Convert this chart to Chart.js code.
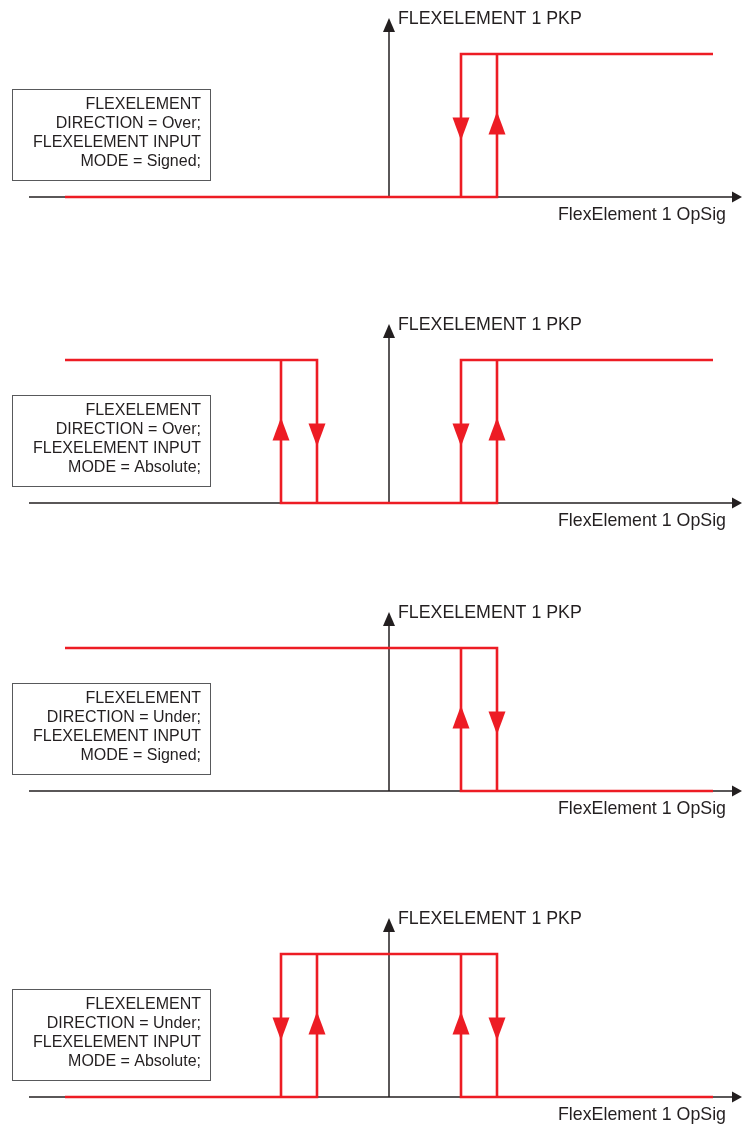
<!DOCTYPE html>
<html>
<head>
<meta charset="utf-8">
<script src="https://cdn.jsdelivr.net/npm/chart.js@4/dist/chart.umd.min.js"></script>
<style>
  html, body { margin: 0; padding: 0; background: #ffffff; }
  body { width: 742px; height: 1127px; position: relative; overflow: hidden; }
  canvas { position: absolute; left: 0; }
</style>
</head>
<body>
<canvas id="c0" width="742" height="235"></canvas>
<canvas id="c1" width="742" height="235"></canvas>
<canvas id="c2" width="742" height="235"></canvas>
<canvas id="c3" width="742" height="235"></canvas>
<script>
// ---- data ----
const yAxisLabel = "FLEXELEMENT 1 PKP";
const xAxisLabel = "FlexElement 1 OpSig";

const panelNotes = [
  ["FLEXELEMENT", "DIRECTION = Over;", "FLEXELEMENT INPUT", "MODE = Signed;"],
  ["FLEXELEMENT", "DIRECTION = Over;", "FLEXELEMENT INPUT", "MODE = Absolute;"],
  ["FLEXELEMENT", "DIRECTION = Under;", "FLEXELEMENT INPUT", "MODE = Signed;"],
  ["FLEXELEMENT", "DIRECTION = Under;", "FLEXELEMENT INPUT", "MODE = Absolute;"]
];

// characteristic polylines (x = OpSig, y = PKP state 0/1)
const overSignedPaths = [
  [[-9, 0], [3, 0], [3, 1]],
  [[2, 0], [2, 1], [9, 1]]
];
const overAbsolutePaths = [
  [[-9, 1], [-2, 1], [-2, 0]],
  [[-3, 1], [-3, 0], [3, 0], [3, 1]],
  [[2, 0], [2, 1], [9, 1]]
];
const underSignedPaths = [
  [[-9, 1], [3, 1], [3, 0]],
  [[2, 1], [2, 0], [9, 0]]
];
const underAbsolutePaths = [
  [[-9, 0], [-2, 0], [-2, 1]],
  [[-3, 0], [-3, 1], [3, 1], [3, 0]],
  [[2, 1], [2, 0], [9, 0]]
];

// direction arrows on the transitions: [x, direction]
const overSignedArrows = [[2, "down"], [3, "up"]];
const overAbsoluteArrows = [[-3, "up"], [-2, "down"], [2, "down"], [3, "up"]];
const underSignedArrows = [[2, "up"], [3, "down"]];
const underAbsoluteArrows = [[-3, "down"], [-2, "up"], [2, "up"], [3, "down"]];

const panelPaths = [overSignedPaths, overAbsolutePaths, underSignedPaths, underAbsolutePaths];
const panelArrows = [overSignedArrows, overAbsoluteArrows, underSignedArrows, underAbsoluteArrows];

// ---- layout ----
const axisY = [197, 503, 791, 1097];   // page y of the OpSig axis per panel
const CANVAS_H = 235, AXIS_IN_CANVAS = 195, UNIT_Y = 143, ORIGIN_X = 389, UNIT_X = 36;
const RED = "#ED1C24", INK = "#231F20";
const FONT = "'Liberation Sans', Arial, Helvetica, sans-serif";

const drawPlugin = {
  id: "hystDraw",
  beforeDatasetsDraw(chart) {
    const ctx = chart.ctx, xs = chart.scales.x, ys = chart.scales.y;
    const x0 = xs.getPixelForValue(0), y0 = ys.getPixelForValue(0);
    ctx.save();
    ctx.strokeStyle = INK; ctx.fillStyle = INK; ctx.lineWidth = 1.5;
    // x axis
    const xStart = xs.getPixelForValue(-10);
    const xEnd = chart.width;
    ctx.beginPath(); ctx.moveTo(xStart, y0); ctx.lineTo(xEnd - 8, y0); ctx.stroke();
    ctx.beginPath(); ctx.moveTo(xEnd, y0); ctx.lineTo(xEnd - 10, y0 - 5.5); ctx.lineTo(xEnd - 10, y0 + 5.5); ctx.closePath(); ctx.fill();
    // y axis
    const yTip = ys.getPixelForValue(1.252);
    ctx.beginPath(); ctx.moveTo(x0, y0); ctx.lineTo(x0, yTip + 10); ctx.stroke();
    ctx.beginPath(); ctx.moveTo(x0, yTip); ctx.lineTo(x0 - 6, yTip + 14); ctx.lineTo(x0 + 6, yTip + 14); ctx.closePath(); ctx.fill();
    // axis labels
    ctx.font = "17.8px " + FONT;
    ctx.textBaseline = "middle";
    ctx.textAlign = "left";
    ctx.fillText(yAxisLabel, x0 + 9, yTip + 1);
    ctx.textAlign = "right";
    ctx.fillText(xAxisLabel, 726, y0 + 18);
    // note box
    const idx = chart.options.plugins.hystDraw.index;
    ctx.strokeStyle = "#58595B"; ctx.lineWidth = 1;
    ctx.strokeRect(12.5, y0 - 108 + 0.5, 198, 91);
    ctx.fillStyle = INK;
    ctx.font = "16px " + FONT;
    ctx.textAlign = "right";
    panelNotes[idx].forEach((t, i) => ctx.fillText(t, 201, y0 - 92 + i * 19));
    ctx.restore();
  },
  afterDatasetsDraw(chart) {
    const ctx = chart.ctx, xs = chart.scales.x, ys = chart.scales.y;
    const idx = chart.options.plugins.hystDraw.index;
    const ym = ys.getPixelForValue(0.5);
    ctx.save();
    ctx.fillStyle = RED;
    panelArrows[idx].forEach(([xv, dir]) => {
      const px = xs.getPixelForValue(xv);
      ctx.beginPath();
      if (dir === "down") {
        ctx.moveTo(px - 8.5, ym - 8); ctx.lineTo(px + 8.5, ym - 8); ctx.lineTo(px, ym + 15);
      } else {
        ctx.moveTo(px - 8.5, ym + 9); ctx.lineTo(px + 8.5, ym + 9); ctx.lineTo(px, ym - 14);
      }
      ctx.closePath(); ctx.fill();
    });
    ctx.restore();
  }
};

panelPaths.forEach((paths, i) => {
  const cv = document.getElementById("c" + i);
  cv.style.top = (axisY[i] - AXIS_IN_CANVAS) + "px";
  const datasets = paths.map(p => ({
    data: p.map(([x, y]) => ({ x, y })),
    showLine: true,
    borderColor: RED,
    borderWidth: 2.6,
    pointRadius: 0,
    borderJoinStyle: "miter",
    borderCapStyle: "butt",
    fill: false,
    tension: 0
  }));
  new Chart(cv, {
    type: "scatter",
    data: { datasets },
    options: {
      responsive: false,
      animation: false,
      devicePixelRatio: 1,
      layout: { padding: 0 },
      events: [],
      plugins: { legend: { display: false }, tooltip: { enabled: false }, hystDraw: { index: i } },
      scales: {
        x: { type: "linear", display: false, min: -ORIGIN_X / UNIT_X, max: (742 - ORIGIN_X) / UNIT_X },
        y: { type: "linear", display: false, min: -(CANVAS_H - AXIS_IN_CANVAS) / UNIT_Y, max: AXIS_IN_CANVAS / UNIT_Y }
      }
    },
    plugins: [drawPlugin]
  });
});
</script>
</body>
</html>
